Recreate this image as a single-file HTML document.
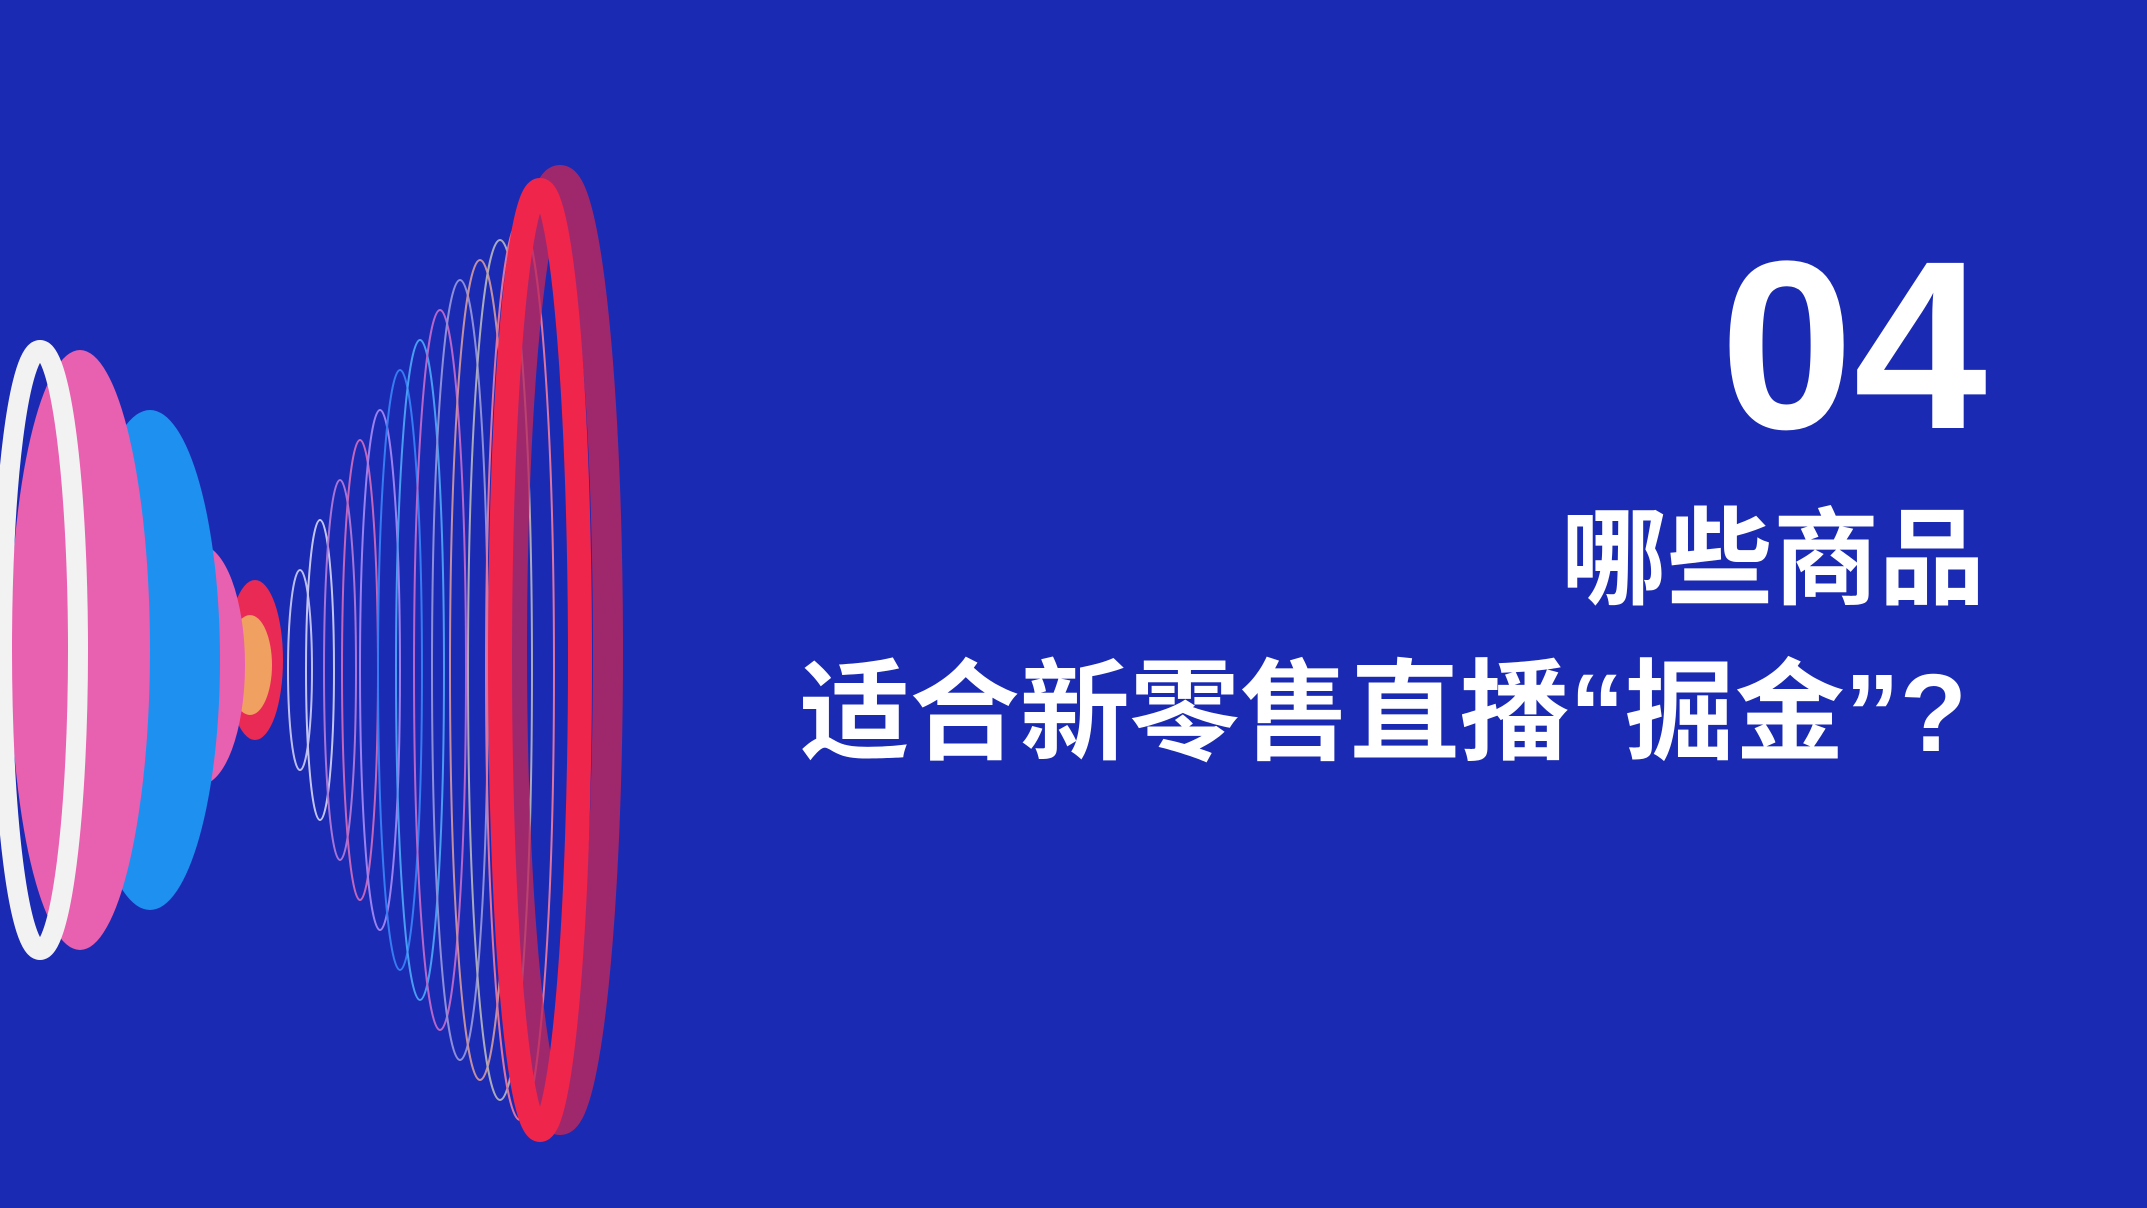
<!DOCTYPE html>
<html lang="zh">
<head>
<meta charset="utf-8">
<style>
  html,body{margin:0;padding:0;}
  body{width:2147px;height:1208px;overflow:hidden;background:#1b2ab2;position:relative;}
  .t{position:absolute;color:#fff;font-weight:bold;white-space:nowrap;}
  #num{right:160px;top:225px;font-family:"Liberation Sans",sans-serif;font-size:240px;line-height:1;}
  #l1{right:162px;top:502px;font-family:"Liberation Sans","Noto Sans CJK SC",sans-serif;font-size:106px;line-height:1.1;}
  #l2{right:180px;top:653px;font-family:"Liberation Sans","Noto Sans CJK SC",sans-serif;font-size:110px;line-height:1.1;}
</style>
</head>
<body>
<svg width="2147" height="1208" style="position:absolute;left:0;top:0">
  <g fill="none" stroke-width="2" opacity="0.85">
    <ellipse cx="300" cy="670" rx="12" ry="100" stroke="#d8d8ff"/>
    <ellipse cx="320" cy="670" rx="14" ry="150" stroke="#e0e0ff"/>
    <ellipse cx="340" cy="670" rx="16" ry="190" stroke="#c080e0"/>
    <ellipse cx="360" cy="670" rx="18" ry="230" stroke="#e070c0"/>
    <ellipse cx="380" cy="670" rx="20" ry="260" stroke="#b090ff"/>
    <ellipse cx="400" cy="670" rx="22" ry="300" stroke="#3a8aff"/>
    <ellipse cx="420" cy="670" rx="24" ry="330" stroke="#50b0ff"/>
    <ellipse cx="440" cy="670" rx="26" ry="360" stroke="#d070d0"/>
    <ellipse cx="460" cy="670" rx="28" ry="390" stroke="#a0a0e0"/>
    <ellipse cx="480" cy="670" rx="30" ry="410" stroke="#e0a0a0"/>
    <ellipse cx="500" cy="670" rx="32" ry="430" stroke="#c0c0c0"/>
    <ellipse cx="520" cy="670" rx="34" ry="450" stroke="#ff80a0"/>
  </g>
  <ellipse cx="560" cy="650" rx="48" ry="470" fill="none" stroke="#c0285a" stroke-width="30" opacity="0.8"/>
  <ellipse cx="540" cy="660" rx="40" ry="470" fill="none" stroke="#f0254c" stroke-width="24"/>
  <ellipse cx="255" cy="660" rx="28" ry="80" fill="#e82a55"/>
  <ellipse cx="250" cy="665" rx="22" ry="50" fill="#f0a060"/>
  <ellipse cx="200" cy="665" rx="45" ry="120" fill="#e860b0"/>
  <ellipse cx="150" cy="660" rx="70" ry="250" fill="#1e90f0"/>
  <ellipse cx="80" cy="650" rx="70" ry="300" fill="#e860b0"/>
  <ellipse cx="40" cy="650" rx="38" ry="300" fill="none" stroke="#f2f2f2" stroke-width="20"/>
</svg>
<div class="t" id="num">04</div>
<div class="t" id="l1">哪些商品</div>
<div class="t" id="l2">适合新零售直播“掘金”?</div>
</body>
</html>
